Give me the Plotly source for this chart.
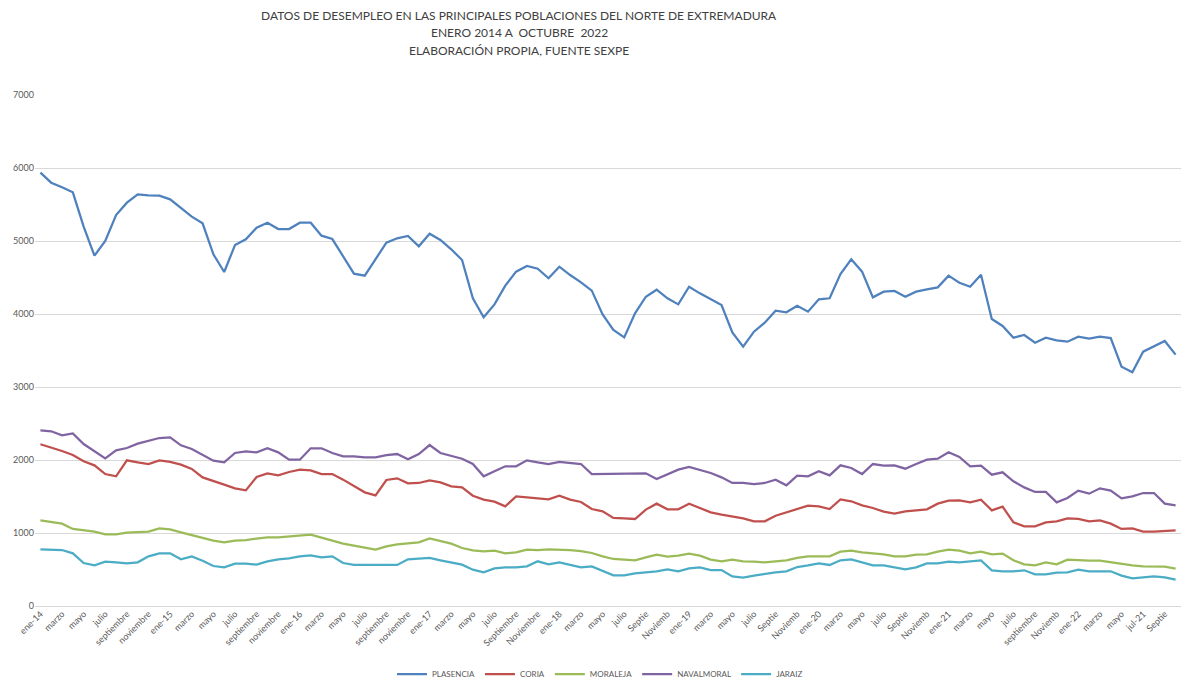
import plotly.graph_objects as go

# Monthly categories Jan 2014 .. Oct 2022 (106 months)
mes = ["ene", "feb", "mar", "abr", "may", "jun", "jul", "ago", "sep", "oct", "nov", "dic"]
categories = [f"{m}-{y:02d}" for y in range(14, 23) for m in mes][:106]

# Tick labels as shown on the original axis (every other month)
tick_labels = [
    "ene-14", "marzo", "mayo", "julio", "septiembre", "noviembre",
    "ene-15", "marzo", "mayo", "julio", "septiembre", "noviembre",
    "ene-16", "marzo", "mayo", "julio", "septiembre", "noviembre",
    "ene-17", "marzo", "mayo", "julio", "Septiembre", "Noviembre",
    "ene-18", "marzo", "mayo", "julio", "Septie", "Noviemb",
    "ene-19", "marzo", "mayo", "julio", "Septie", "Noviemb",
    "ene-20", "marzo", "mayo", "julio", "Septie", "Noviemb",
    "ene-21", "marzo", "mayo", "julio", "septiembre", "Noviemb",
    "ene-22", "marzo", "mayo", "jul-21", "Septie",
]

title_lines = [
    "DATOS DE DESEMPLEO EN LAS PRINCIPALES POBLACIONES DEL NORTE DE EXTREMADURA",
    "ENERO 2014 A  OCTUBRE  2022",
    "ELABORACIÓN PROPIA, FUENTE SEXPE",
]

plasencia = [
    5936, 5799, 5735, 5667, 5196, 4799, 5000, 5356, 5525, 5639, 5626, 5621,
    5571, 5452, 5333, 5242, 4817, 4575, 4945, 5023, 5183, 5251, 5164, 5164,
    5251, 5251, 5073, 5027, 4795, 4553, 4525, 4758, 4977, 5037, 5069, 4927,
    5100, 5014, 4886, 4740, 4215, 3955, 4132, 4388, 4580, 4658, 4621, 4489,
    4648, 4534, 4434, 4320, 3995, 3781, 3680, 4009, 4237, 4333, 4215, 4132,
    4374, 4283, 4201, 4123, 3749, 3553, 3758, 3881, 4046, 4023, 4114, 4032,
    4201, 4215, 4548, 4749, 4580, 4228, 4306, 4315, 4237, 4306, 4338, 4365,
    4525, 4429, 4374, 4539, 3932, 3836, 3676, 3712, 3607, 3676, 3640, 3621,
    3690, 3662, 3690, 3671, 3279, 3201, 3484, 3553, 3630, 3443,
]

coria = [
    2215, 2173, 2123, 2068, 1982, 1927, 1808, 1776, 1995, 1968, 1945, 1995,
    1973, 1936, 1877, 1762, 1717, 1662, 1612, 1584, 1767, 1817, 1790, 1836,
    1868, 1858, 1808, 1808, 1731, 1648, 1557, 1516, 1726, 1749, 1680, 1685,
    1721, 1694, 1639, 1626, 1511, 1457, 1429, 1365, 1502, 1489, 1475, 1461,
    1511, 1457, 1425, 1329, 1297, 1206, 1201, 1192, 1320, 1402, 1324, 1324,
    1402, 1342, 1283, 1251, 1228, 1201, 1160, 1160, 1237, 1283, 1329, 1374,
    1365, 1329, 1461, 1434, 1379, 1342, 1292, 1265, 1297, 1310, 1324, 1402,
    1443, 1447, 1420, 1457, 1310, 1361, 1146, 1091, 1091, 1146, 1160, 1201,
    1192, 1160, 1173, 1128, 1055, 1064, 1018, 1018, 1023, 1037,
]

moraleja = [
    1174, 1146, 1128, 1055, 1037, 1018, 982, 982, 1005, 1009, 1018, 1064,
    1050, 1009, 968, 932, 895, 872, 895, 904, 918, 941, 941, 954,
    968, 977, 936, 895, 854, 826, 799, 772, 817, 845, 858, 872,
    927, 886, 854, 794, 763, 749, 758, 721, 735, 772, 767, 776,
    776, 767, 753, 726, 680, 644, 635, 626, 667, 703, 676, 689,
    717, 689, 635, 612, 635, 612, 607, 598, 612, 626, 658, 680,
    680, 680, 744, 758, 735, 721, 708, 680, 680, 703, 708, 744,
    772, 758, 721, 744, 708, 717, 626, 571, 557, 598, 571, 635,
    626, 621, 621, 598, 571, 557, 543, 543, 539, 511,
]

navalmoral = [
    2406, 2393, 2338, 2365, 2219, 2119, 2023, 2132, 2164, 2224, 2265, 2301,
    2310, 2201, 2151, 2073, 1991, 1968, 2096, 2119, 2105, 2160, 2105, 2004,
    2004, 2160, 2160, 2096, 2050, 2050, 2036, 2036, 2068, 2082, 2009, 2082,
    2205, 2096, 2059, 2018, 1945, 1776, 1845, 1913, 1913, 1995, 1968, 1945,
    1973, 1959, 1945, 1808, 1808, 1817, 1808, 1808, 1817, 1740, 1808, 1868,
    1904, 1868, 1822, 1762, 1685, 1685, 1671, 1685, 1731, 1653, 1785, 1776,
    1845, 1790, 1927, 1890, 1808, 1945, 1922, 1927, 1881, 1945, 2004, 2018,
    2105, 2041, 1913, 1922, 1799, 1831, 1708, 1625, 1562, 1562, 1420, 1479,
    1580, 1539, 1612, 1580, 1475, 1502, 1548, 1548, 1402, 1379,
]

jaraiz = [
    776, 776, 767, 721, 589, 557, 607, 598, 584, 598, 680, 721,
    721, 639, 680, 621, 548, 530, 580, 580, 566, 612, 639, 653,
    680, 694, 667, 680, 589, 562, 562, 571, 562, 562, 639, 644,
    658, 626, 598, 566, 498, 461, 516, 530, 530, 543, 612, 571,
    598, 566, 530, 543, 484, 420, 420, 447, 461, 475, 502, 475,
    516, 530, 493, 493, 406, 388, 416, 443, 461, 475, 534, 557,
    584, 562, 626, 639, 598, 557, 557, 530, 502, 530, 584, 584,
    607, 598, 612, 626, 489, 475, 475, 489, 434, 434, 457, 461,
    498, 475, 475, 475, 416, 379, 393, 406, 393, 361,
]

series = [
    ("PLASENCIA", plasencia, "#4F81BD"),
    ("CORIA", coria, "#C0504D"),
    ("MORALEJA", moraleja, "#9BBB59"),
    ("NAVALMORAL", navalmoral, "#8064A2"),
    ("JARAIZ", jaraiz, "#4BACC6"),
]

FONT = "Lato, 'Open Sans', Arial, sans-serif"
W, H = 1201, 690
ML, MR, MT, MB = 35, 20, 95, 84
PW, PH = W - ML - MR, H - MT - MB

fig = go.Figure()
for name, vals, color in series:
    fig.add_trace(go.Scatter(
        x=categories, y=vals, name=name, mode="lines",
        line=dict(color=color, width=2.25),
    ))

# Title lines as centered annotations
for txt, py in zip(title_lines, [16, 33, 50]):
    fig.add_annotation(
        text=txt, xref="paper", yref="paper",
        x=(519 - ML) / PW, y=(H - MB - py) / PH,
        xanchor="center", yanchor="middle", showarrow=False,
        font=dict(family=FONT, size=12, color="#404040"),
    )

fig.update_layout(
    width=W, height=H,
    paper_bgcolor="white", plot_bgcolor="white",
    margin=dict(l=ML, r=MR, t=MT, b=MB, autoexpand=False),
    font=dict(family=FONT, color="#595959", size=9),
    showlegend=True,
    legend=dict(
        orientation="h", x=(600 - ML) / PW, xanchor="center",
        y=-68 / PH, yanchor="middle",
        font=dict(size=8, color="#595959"),
        itemwidth=30, tracegroupgap=0,
    ),
)

fig.update_xaxes(
    type="category", categoryorder="array", categoryarray=categories,
    range=[-0.5, len(categories) - 0.5],
    tickmode="array", tickvals=categories[::2], ticktext=tick_labels,
    tickangle=-45, tickfont=dict(size=9, color="#595959"),
    showgrid=False, showline=False, zeroline=False, ticks="",
    automargin=False,
)
fig.update_yaxes(
    range=[0, 7000], tickmode="array", tickvals=list(range(0, 7001, 1000)),
    showgrid=True, gridcolor="#D9D9D9", gridwidth=1,
    zeroline=True, zerolinecolor="#D9D9D9", zerolinewidth=1,
    showline=False, ticks="", tickfont=dict(size=9, color="#595959"),
    automargin=False,
)

fig.write_html(
    "out.html",
    config={"displayModeBar": False},
    post_script="document.body.style.margin='0';document.body.style.overflow='hidden';",
)
